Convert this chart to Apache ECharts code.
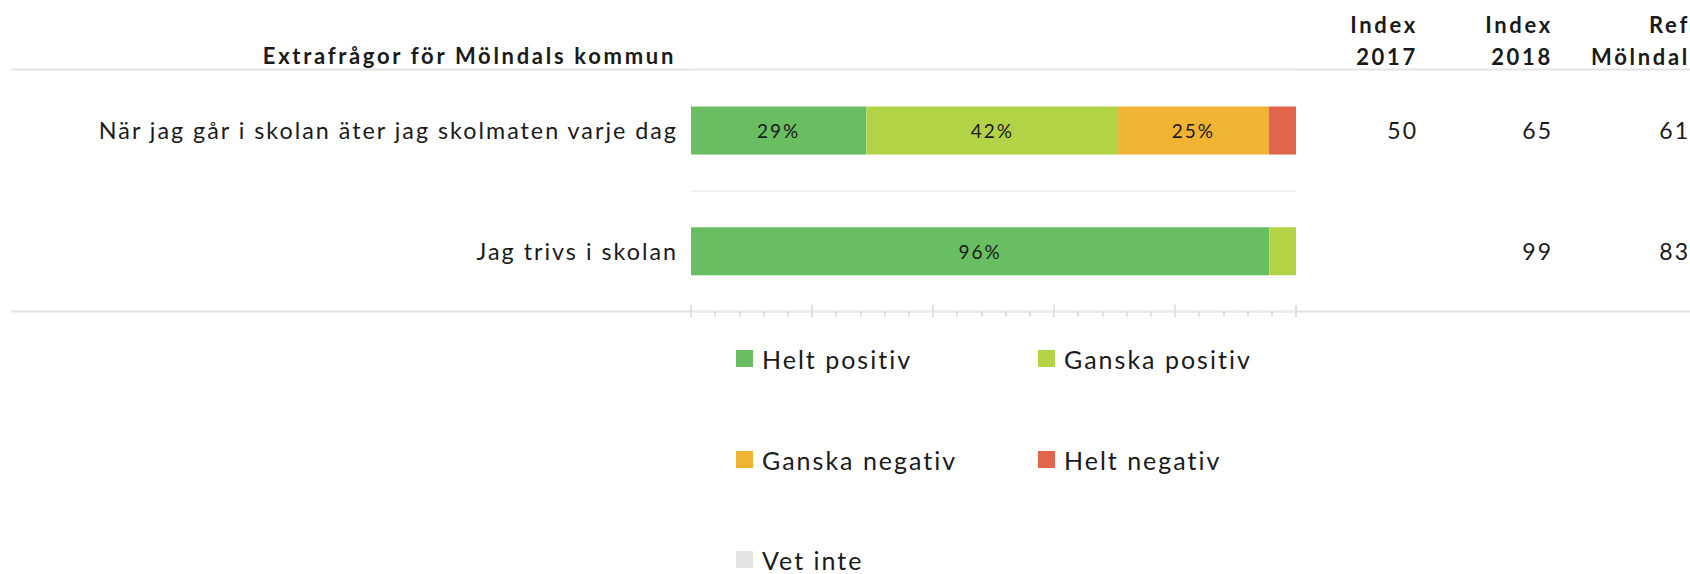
<!DOCTYPE html>
<html>
<head>
<meta charset="utf-8">
<script src="https://cdn.jsdelivr.net/npm/echarts@6/dist/echarts.min.js"></script>
<style>
  html, body { margin: 0; padding: 0; background: #fff; }
  #main { width: 1690px; height: 574px; }
  /* the source chart uses spaced-out text */
  #main text { letter-spacing: 2px; }
  #main text[style*="bold"] { letter-spacing: 2.7px; }
</style>
</head>
<body>
<div id="main"></div>
<script>
var chartDom = document.getElementById('main');
var myChart = echarts.init(chartDom, null, { renderer: 'svg' });

// categories and answer shares (%)
var categories = ['När jag går i skolan äter jag skolmaten varje dag', 'Jag trivs i skolan'];
var heltPositiv = [29, 95.6];
var ganskaPositiv = [41.6, 4.4];
var ganskaNegativ = [24.9, 0];
var heltNegativ = [4.5, 0];
var vetInte = [0, 0];

// table columns to the right
var index2017 = ['50', ''];
var index2018 = ['65', '99'];
var refMolndal = ['61', '83'];

var seriesNames = ['Helt positiv', 'Ganska positiv', 'Ganska negativ', 'Helt negativ', 'Vet inte'];
var seriesData = [heltPositiv, ganskaPositiv, ganskaNegativ, heltNegativ, vetInte];
var colors = ['#69be62', '#b2d345', '#f0b432', '#e0654a', '#e3e3e3'];

var font = 'Lato';
var textColor = '#1a1a1a';

var series = seriesNames.map(function (name, i) {
    return {
        name: name,
        type: 'bar',
        stack: 'total',
        barWidth: 48,
        data: seriesData[i],
        itemStyle: { color: colors[i] },
        emphasis: { disabled: true },
        label: {
            show: true,
            position: 'inside',
            color: textColor,
            fontFamily: font,
            fontSize: 19,
            formatter: function (p) {
                return p.value >= 8 ? Math.round(p.value) + '%' : '';
            }
        }
    };
});

function tableAxis(values, offset) {
    return {
        type: 'category',
        data: categories,
        inverse: true,
        position: 'right',
        offset: offset,
        axisLine: { show: false },
        axisTick: { show: false },
        splitLine: { show: false },
        axisLabel: {
            interval: 0,
            align: 'right',
            margin: 0,
            padding: [0, 0, 16, 0],
            color: textColor,
            fontFamily: font,
            fontSize: 23,
            formatter: function (v, idx) { return values[idx]; }
        }
    };
}

var legendPos = [[736, 346], [1038, 346], [736, 447], [1038, 447], [736, 547]];
var legends = seriesNames.map(function (name, i) {
    return {
        data: [name],
        left: legendPos[i][0],
        top: legendPos[i][1],
        padding: 0,
        icon: 'rect',
        itemWidth: 17,
        itemHeight: 17,
        textStyle: { color: textColor, fontFamily: font, fontSize: 25, padding: [0, 0, 0, 4] }
    };
});

var headerStyle = { fill: textColor, fontFamily: font, fontWeight: 'bold', fontSize: 22, align: 'right', verticalAlign: 'middle', lineHeight: 32 };

var option = {
    backgroundColor: '#fff',
    animation: false,
    legend: legends,
    grid: { left: 691, right: 394, top: 70, bottom: 262.5, containLabel: false, outerBoundsMode: 'none' },
    xAxis: [
        {
            type: 'value', min: 0, max: 100, interval: 20, position: 'bottom',
            axisLine: { show: false },
            axisLabel: { show: false },
            splitLine: { show: false },
            axisTick: { show: true, length: 6, lineStyle: { color: '#d9d9d9', width: 1.5 } },
            minorTick: { show: true, splitNumber: 5, length: 5, lineStyle: { color: '#d9d9d9', width: 1.5 } }
        },
        {
            type: 'value', min: 0, max: 100, interval: 20, position: 'bottom',
            axisLine: { show: false },
            axisLabel: { show: false },
            splitLine: { show: false },
            axisTick: { show: true, inside: true, length: 7, lineStyle: { color: '#d9d9d9', width: 1.5 } }
        }
    ],
    yAxis: [
        {
            type: 'category',
            data: categories,
            inverse: true,
            axisLine: { show: false },
            axisTick: { show: false },
            splitLine: { show: true, lineStyle: { color: '#ececec', width: 1.5 } },
            axisLabel: {
                interval: 0,
                margin: 13,
                padding: [0, 0, 8, 0],
                color: textColor,
                fontFamily: font,
                fontSize: 23.3
            }
        },
        tableAxis(index2017, 122),
        tableAxis(index2018, 257),
        tableAxis(refMolndal, 394)
    ],
    graphic: [
        { type: 'line', shape: { x1: 11, y1: 69.5, x2: 1690, y2: 69.5 }, style: { stroke: '#e3e3e3', lineWidth: 2 }, silent: true },
        { type: 'line', shape: { x1: 11, y1: 311.5, x2: 1690, y2: 311.5 }, style: { stroke: '#e3e3e3', lineWidth: 2 }, silent: true },
        { type: 'text', x: 676, y: 55, style: Object.assign({ text: 'Extrafrågor för Mölndals kommun' }, headerStyle) },
        { type: 'text', x: 1418, y: 40, style: Object.assign({ text: 'Index\n2017' }, headerStyle) },
        { type: 'text', x: 1553, y: 40, style: Object.assign({ text: 'Index\n2018' }, headerStyle) },
        { type: 'text', x: 1690, y: 40, style: Object.assign({ text: 'Ref\nMölndal' }, headerStyle) }
    ],
    series: series
};
myChart.setOption(option);
</script>
</body>
</html>
